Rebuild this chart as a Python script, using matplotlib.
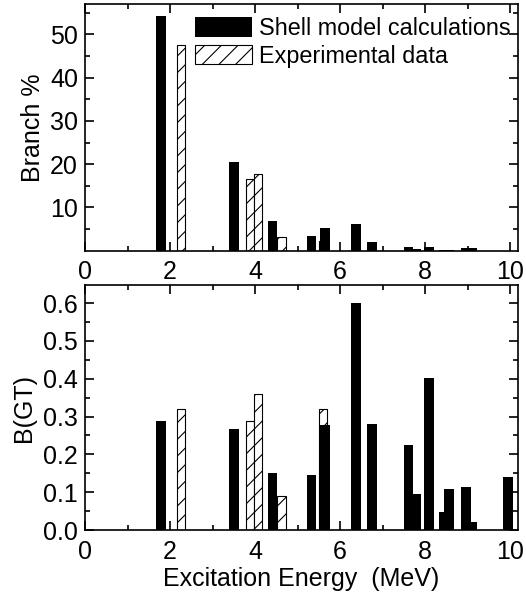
import matplotlib
matplotlib.use("Agg")
import matplotlib.pyplot as plt
from matplotlib.ticker import MultipleLocator, FixedLocator

plt.rcParams['font.family'] = ['Liberation Sans', 'DejaVu Sans']
plt.rcParams['hatch.linewidth'] = 0.8

# Shell model calculations
sm_energy = [1.79, 3.50, 4.41, 5.33, 5.65, 6.38, 6.76, 7.61, 7.79, 8.10, 8.44, 8.57, 8.96, 9.11, 9.95]
sm_branch = [54.2, 20.4, 6.8, 3.45, 5.15, 6.15, 2.07, 0.78, 0.45, 0.75, 0.1, 0.15, 0.6, 0.6, 0.0]
sm_bgt = [0.287, 0.266, 0.151, 0.145, 0.277, 0.600, 0.280, 0.224, 0.095, 0.401, 0.048, 0.108, 0.115, 0.022, 0.140]

# Experimental data
exp_energy = [2.26, 3.88, 4.07, 4.62, 5.60]
exp_branch = [47.6, 16.5, 17.8, 3.15, 2.3]
exp_bgt = [0.319, 0.289, 0.359, 0.089, 0.319]

labels = ["Shell model calculations", "Experimental data"]
xlabel = "Excitation Energy  (MeV)"

fig = plt.figure(figsize=(5.26, 5.92), dpi=100)
ax1 = fig.add_axes([0.1616, 0.5765, 0.8226, 0.4167])
ax2 = fig.add_axes([0.1616, 0.1047, 0.8226, 0.4139])

FS = 18
for ax, smv, expv in [(ax1, sm_branch, exp_branch), (ax2, sm_bgt, exp_bgt)]:
    ax.bar(exp_energy, expv, width=0.2, facecolor='white', edgecolor='black',
           linewidth=0.8, hatch='//', label=labels[1], zorder=2)
    ax.bar(sm_energy, smv, width=0.23, color='black', edgecolor='black',
           linewidth=0, label=labels[0], zorder=3)
    ax.set_xlim(0, 10.18)
    ax.xaxis.set_major_locator(MultipleLocator(2))
    ax.xaxis.set_minor_locator(MultipleLocator(1))
    ax.tick_params(which='both', direction='in', top=True, right=True, labelsize=FS, width=1.2)
    ax.tick_params(which='major', length=6.5)
    ax.tick_params(which='minor', length=3.6)
    ax.tick_params(axis='x', which='major', pad=7)
    ax.tick_params(axis='y', which='major', pad=5)
    for s in ax.spines.values():
        s.set_linewidth(1.2)

ax1.set_ylim(0, 57)
ax1.yaxis.set_major_locator(FixedLocator([10, 20, 30, 40, 50]))
ax1.yaxis.set_minor_locator(FixedLocator([5, 15, 25, 35, 45, 55]))
ax1.set_ylabel("Branch %", fontsize=FS, labelpad=4)
h, l = ax1.get_legend_handles_labels()
ax1.legend([h[1], h[0]], [l[1], l[0]], loc='upper left', bbox_to_anchor=(0.254, 0.947),
           frameon=False, fontsize=16.8, handlelength=2.45, handleheight=0.9,
           handletextpad=0.3, labelspacing=0.2, borderpad=0, borderaxespad=0)

ax2.set_ylim(0, 0.648)
ax2.yaxis.set_major_locator(MultipleLocator(0.1))
ax2.yaxis.set_minor_locator(MultipleLocator(0.05))
ax2.yaxis.set_major_formatter(matplotlib.ticker.FormatStrFormatter('%.1f'))
ax2.set_ylabel("B(GT)", fontsize=FS, labelpad=5)
ax2.set_xlabel(xlabel, fontsize=FS, labelpad=2)

fig.savefig("out.png", dpi=100)
